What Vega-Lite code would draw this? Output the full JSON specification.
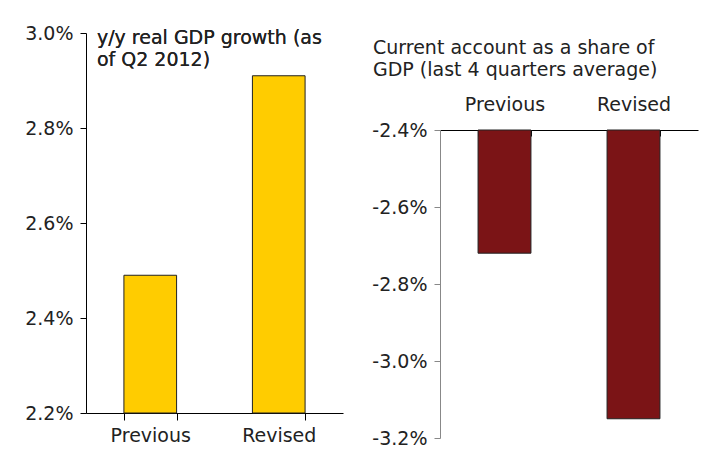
{
  "$schema": "https://vega.github.io/schema/vega-lite/v6.json",
  "padding": {"left": 24, "top": 24, "right": 5, "bottom": 5},
  "background": "#ffffff",
  "datasets": {
    "gdp": [
      {"cat": "Previous", "v": 2.49},
      {"cat": "Revised", "v": 2.91}
    ],
    "ca": [
      {"cat": "Previous", "v": -2.72},
      {"cat": "Revised", "v": -3.15}
    ],
    "spacer": [
      {"label": ""}
    ]
  },
  "config": {
    "font": "DejaVu Sans",
    "view": {"stroke": null},
    "axis": {
      "labelFont": "DejaVu Sans",
      "labelFontSize": 19,
      "labelColor": "#222222",
      "domainColor": "#000000",
      "tickColor": "#000000",
      "grid": false,
      "title": null
    }
  },
  "spacing": 28,
  "hconcat": [
    {
      "width": 257,
      "height": 380,
      "data": {"name": "gdp"},
      "layer": [
        {
          "mark": {"type": "bar", "color": "#FFCC00", "stroke": "#222222", "strokeWidth": 1},
          "encoding": {
            "x": {
              "field": "cat",
              "type": "nominal",
              "sort": ["Previous", "Revised"],
              "scale": {"paddingInner": 0.59, "paddingOuter": 0.295},
              "axis": {"labelAngle": 0, "tickBand": "extent", "tickSize": 7, "labelPadding": 6}
            },
            "y": {
              "field": "v",
              "type": "quantitative",
              "scale": {"domain": [2.2, 3.0], "zero": false, "nice": false},
              "axis": {
                "values": [2.2, 2.4, 2.6, 2.8, 3.0],
                "labelExpr": "format(datum.value, '.1f') + '%'",
                "tickSize": 6,
                "labelPadding": 7
              }
            },
            "y2": {"datum": 2.2}
          }
        },
        {
          "mark": {
            "type": "text",
            "text": ["y/y real GDP growth (as", "of Q2 2012)"],
            "align": "left",
            "baseline": "top",
            "fontSize": 19,
            "lineHeight": 22,
            "color": "#222222",
            "dx": -27,
            "dy": -4
          },
          "encoding": {
            "x": {"datum": "Previous", "type": "nominal", "bandPosition": 0},
            "y": {"datum": 3.0, "type": "quantitative"}
          }
        }
      ]
    },
    {
      "spacing": 0,
      "vconcat": [
        {
          "width": 258,
          "height": 1,
          "data": {"name": "spacer"},
          "mark": {"type": "text", "opacity": 0},
          "encoding": {"text": {"field": "label", "type": "nominal"}}
        },
        {
          "width": 258,
          "height": 308,
          "data": {"name": "ca"},
          "title": {
            "text": ["Current account as a share of", "GDP (last 4 quarters average)"],
            "anchor": "start",
            "frame": "group",
            "orient": "top",
            "offset": 15,
            "dx": -67,
            "fontSize": 19,
            "fontWeight": "normal",
            "color": "#222222",
            "lineHeight": 22
          },
          "mark": {"type": "bar", "color": "#7B1416", "stroke": "#222222", "strokeWidth": 1},
          "encoding": {
            "x": {
              "field": "cat",
              "type": "nominal",
              "sort": ["Previous", "Revised"],
              "scale": {"paddingInner": 0.59, "paddingOuter": 0.295},
              "axis": {"orient": "top", "labelAngle": 0, "tickBand": "extent", "tickSize": -6, "labelPadding": 22}
            },
            "y": {
              "field": "v",
              "type": "quantitative",
              "scale": {"domain": [-3.2, -2.4], "zero": false, "nice": false},
              "axis": {
                "values": [-3.2, -3.0, -2.8, -2.6, -2.4],
                "labelExpr": "'-' + format(abs(datum.value), '.1f') + '%'",
                "tickSize": 6,
                "labelPadding": 7,
                "domainColor": "#888888",
                "tickColor": "#888888"
              }
            },
            "y2": {"datum": -2.4}
          }
        }
      ]
    }
  ]
}
